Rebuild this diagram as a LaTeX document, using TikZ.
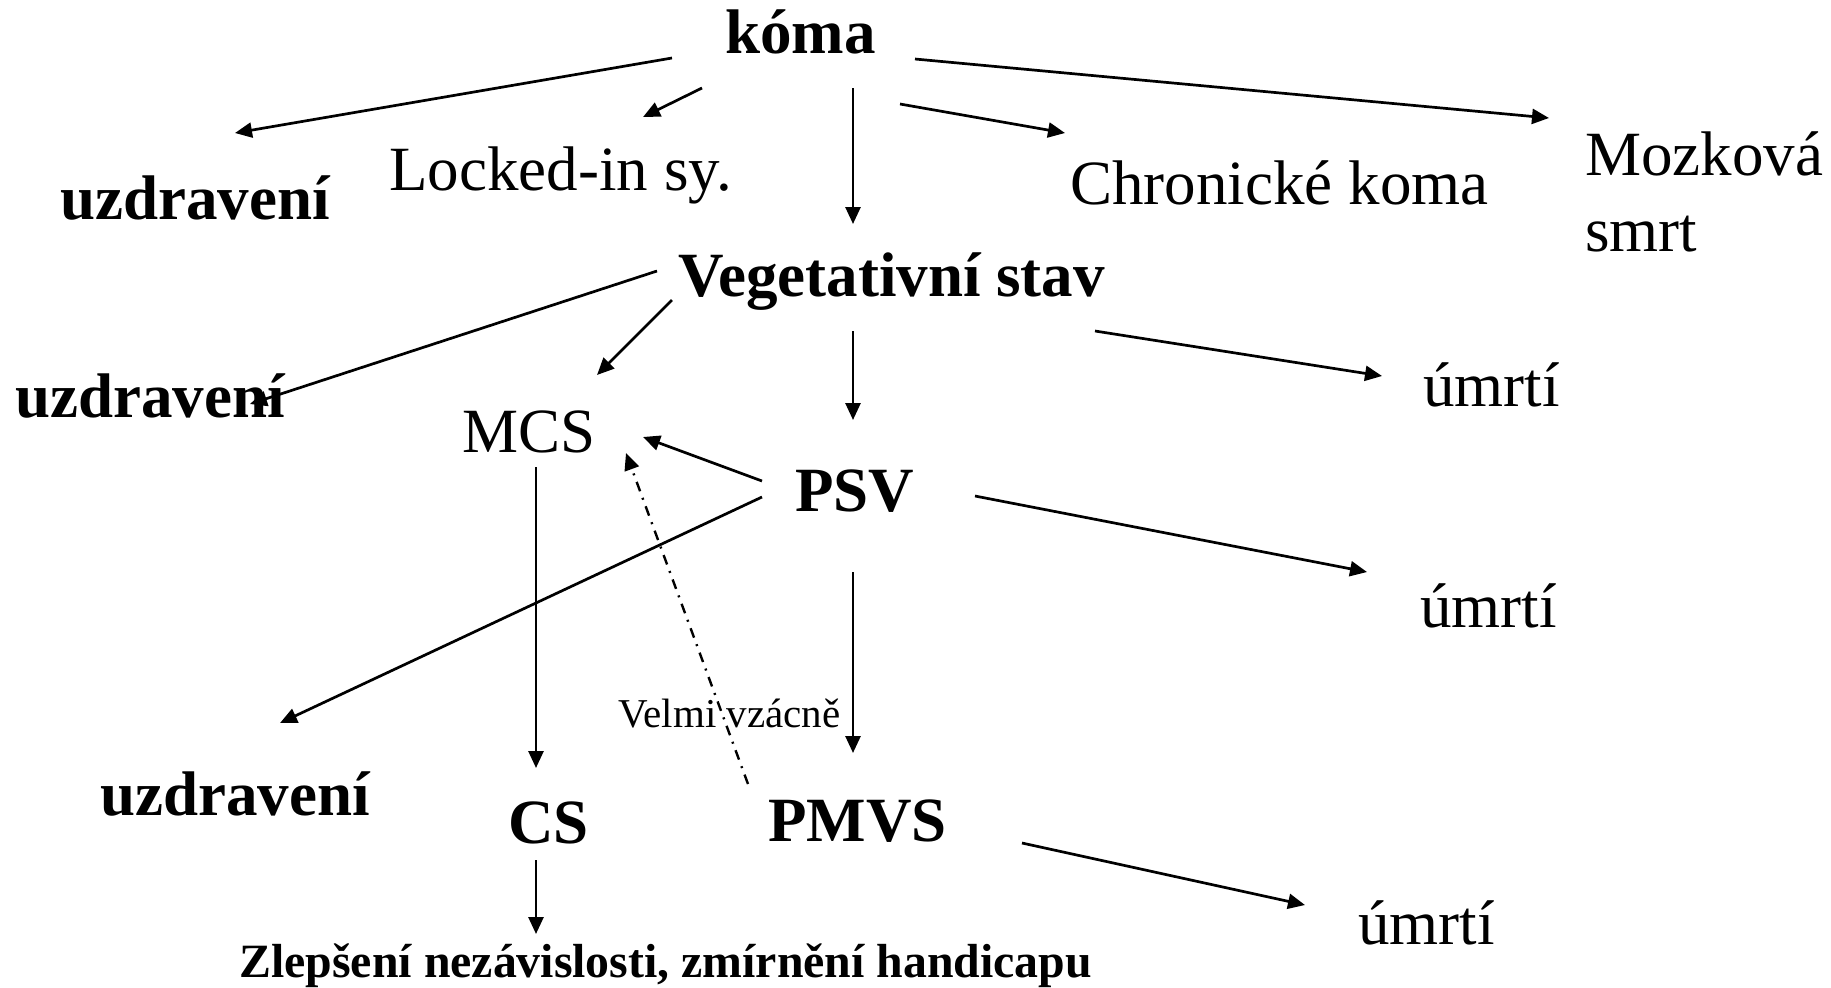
\documentclass[tikz,border=0pt]{standalone}
\usepackage{fontspec}
\setmainfont{Liberation Serif}
\usetikzlibrary{arrows.meta}
\begin{document}
\begin{tikzpicture}[x=0.5pt,y=-0.5pt,
  txt/.style={inner sep=0pt, anchor=base west, font=\fontsize{31.5}{38}\selectfont},
  btxt/.style={txt, font=\fontsize{31.5}{38}\selectfont\bfseries},
  arr/.style={-{Triangle[length=8.5pt,width=7.5pt]}, line width=1.35pt},
  dashdot/.style={arr, line width=1.2pt, dash pattern=on 5pt off 3.5pt on 1pt off 3.5pt}]
\useasboundingbox (0,0) rectangle (1831,987);
% nodes
\node[btxt] (koma) at (725,53) {kóma};
\node[btxt] (uzdr1) at (60,219) {uzdravení};
\node[txt] (locked) at (389,190) {Locked-in sy.};
\node[txt] (chron) at (1070,204) {Chronické koma};
\node[txt, align=left] (mozk) at (1585,251) {Mozková\\smrt};
\node[btxt] (veg) at (678,296) {Vegetativní stav};
\node[btxt] (uzdr2) at (15,417) {uzdravení};
\node[txt] (mcs) at (462,452) {MCS};
\node[txt] (umrti1) at (1423,406) {úmrtí};
\node[btxt] (psv) at (795,511) {PSV};
\node[txt] (umrti2) at (1420,627) {úmrtí};
\node[btxt] (uzdr3) at (100,815) {uzdravení};
\node[btxt] (cs) at (508,843) {CS};
\node[btxt] (pmvs) at (768,841) {PMVS};
\node[txt, font=\fontsize{20.5}{24}\selectfont] (velmi) at (618,727) {Velmi vzácně};
\node[txt] (umrti3) at (1358,944) {úmrtí};
\node[btxt, font=\fontsize{23.9}{28}\selectfont\bfseries] (zlep) at (239,977) {Zlepšení nezávislosti, zmírnění handicapu};
% connectors
\draw[arr] ([shift={(-53,5)}]koma.base west) -- ([shift={(175,-86)}]uzdr1.base west);
\draw[arr] ([shift={(-23,35)}]koma.base west) -- ([shift={(254,-73)}]locked.base west);
\draw[arr] ([shift={(128,35)}]koma.base west) -- ([shift={(175,-72)}]veg.base west);
\draw[arr] ([shift={(175,51)}]koma.base west) -- ([shift={(-5,-71)}]chron.base west);
\draw[arr] ([shift={(190,6)}]koma.base west) -- ([shift={(-36,-133)}]mozk.base west);
\draw[arr] ([shift={(-21,-25)}]veg.base west) -- ([shift={(235,-13)}]uzdr2.base west);
\draw[arr] ([shift={(-6,4)}]veg.base west) -- ([shift={(135,-77)}]mcs.base west);
\draw[arr] ([shift={(175,35)}]veg.base west) -- ([shift={(58,-91)}]psv.base west);
\draw[arr] ([shift={(417,35)}]veg.base west) -- ([shift={(-41,-30)}]umrti1.base west);
\draw[arr] ([shift={(-33,-30)}]psv.base west) -- ([shift={(181,-15)}]mcs.base west);
\draw[arr] ([shift={(-33,-14)}]psv.base west) -- ([shift={(180,-92)}]uzdr3.base west);
\draw[arr] ([shift={(180,-15)}]psv.base west) -- ([shift={(-53,-55)}]umrti2.base west);
\draw[arr] ([shift={(58,61)}]psv.base west) -- ([shift={(85,-88)}]pmvs.base west);
\draw[arr] ([shift={(74,15)}]mcs.base west) -- ([shift={(28,-75)}]cs.base west);
\draw[dashdot] ([shift={(-20,-57)}]pmvs.base west) -- ([shift={(164,1)}]mcs.base west);
\draw[arr] ([shift={(254,2)}]pmvs.base west) -- ([shift={(-53,-39)}]umrti3.base west);
\draw[arr] ([shift={(28,17)}]cs.base west) -- ([shift={(297,-43)}]zlep.base west);
\end{tikzpicture}
\end{document}
